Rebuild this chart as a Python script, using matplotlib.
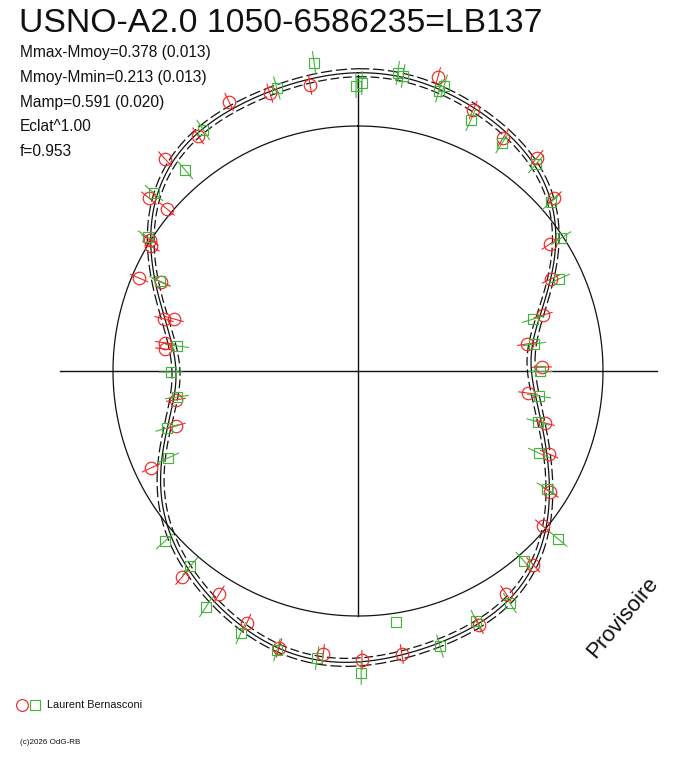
import numpy as np
import matplotlib
matplotlib.use('Agg')
import matplotlib.pyplot as plt
from matplotlib.collections import LineCollection

plt.rcParams['font.family'] = ['Liberation Sans', 'DejaVu Sans']

# polar light curve: angle = phase (deg, clockwise from top), radius in chart units
# (reference circle = 245 units)
R_REF = 245.0

title = 'USNO-A2.0 1050-6586235=LB137'
stats = ['Mmax-Mmoy=0.378 (0.013)',
         'Mmoy-Mmin=0.213 (0.013)',
         'Mamp=0.591 (0.020)',
         'Eclat^1.00',
         'f=0.953']
observer = 'Laurent Bernasconi'
credit = '(c)2026 OdG-RB'
stamp = 'Provisoire'

# model curve
model_theta = [0, 8, 16, 23.7, 31.4, 39.9, 48.9, 55.8, 64.6, 73.5, 81, 90, 98.4,
               105.9, 113.4, 121.8, 129.7, 137.5, 146.4, 154.7, 163.3, 171.6, 180,
               188, 195.9, 203, 211, 220.9, 228.3, 236.2, 246, 253.5, 261, 270,
               277.6, 285, 294, 303, 311, 319, 327.6, 333.8, 342.5, 350.7]
model_r = [296, 298, 295.6, 286, 278.7, 275, 257, 238, 212, 190, 177.7, 173.5, 179,
           190, 206.5, 226, 244, 260, 275, 278.7, 285, 287, 291,
           291, 288.5, 283, 273, 259, 249.7, 237, 214, 200, 185, 182,
           188.7, 200, 221, 247, 267, 281, 287, 290, 293.5, 297]
model_err = 4.0

# observations, set 1 (red circles)
red_theta = [350.5, 342.4, 334.4, 325.8, 317.7, 309.6, 310.3, 302.2, 301.1, 293.0,
             294.3, 285.0, 285.8, 278.3, 276.5, 261.0, 253.2, 244.9, 220.5, 211.9,
             203.8, 195.9, 187.0, 179.2, 171.2, 154.5, 146.4, 137.9, 130.0, 122.2,
             113.5, 105.5, 97.4, 88.8, 80.9, 73.2, 64.5, 56.5, 48.6, 40.0, 31.9,
             23.8, 15.2]
red_r = [290.0, 291.6, 298.3, 284.3, 286.7, 271.3, 250.5, 245.8, 241.8, 237.9,
         216.2, 200.8, 191.2, 195.0, 194.2, 184.3, 190.0, 228.6, 271.0, 262.8,
         275.4, 288.0, 285.2, 289.0, 286.4, 281.3, 267.6, 261.3, 241.3, 227.0,
         208.3, 194.1, 171.4, 184.0, 171.1, 193.3, 213.8, 230.2, 261.4, 278.2, 274.4,
         285.2, 304.7]
red_err = 10.0

# observations, set 2 (green squares)
green_theta = [351.9, 359.6, 0.8, 344.0, 327.3, 319.3, 311.1, 302.5, 294.4, 277.9,
               269.7, 261.8, 253.4, 245.4, 228.6, 220.7, 212.8, 204.1, 196.2, 188.1,
               179.4, 163.4, 154.7, 146.8, 138.9, 130.0, 122.0, 114.4, 105.8, 97.9,
               90.0, 81.3, 73.5, 65.4, 56.8, 48.8, 40.7, 32.3, 24.2, 16.8, 16.1,
               7.6, 8.7]
green_r = [311.1, 285.0, 288.0, 294.4, 286.5, 265.2, 270.7, 249.1, 217.5, 182.7,
           187.0, 182.9, 199.3, 209.0, 257.2, 257.4, 280.7, 286.9, 290.5, 290.0,
           302.0, 287.0, 276.4, 277.4, 252.3, 261.2, 222.8, 198.7, 187.1, 182.7,
           182.0, 178.1, 182.6, 221.1, 242.7, 256.5, 273.0, 269.7, 275.3, 297.7, 291.5,
           300.7, 298.4]
green_err = 12.0
# single point without error bar
lone_theta = [171.4]
lone_r = [253.9]


def to_xy(theta_deg, r):
   t = np.radians(np.asarray(theta_deg, dtype=float))
   r = np.asarray(r, dtype=float)
   return r * np.sin(t), r * np.cos(t)

def fourier_fit(theta_deg, r, order, t_out):
   t = np.radians(np.asarray(theta_deg, dtype=float))
   def design(tt):
      cols = [np.ones_like(tt)]
      for k in range(1, order + 1):
         cols += [np.cos(k * tt), np.sin(k * tt)]
      return np.column_stack(cols)
   coef = np.linalg.lstsq(design(t), np.asarray(r, dtype=float), rcond=None)[0]
   return design(t_out) @ coef

def radial_bars(theta_deg, r, err):
   x0, y0 = to_xy(theta_deg, np.asarray(r) - err)
   x1, y1 = to_xy(theta_deg, np.asarray(r) + err)
   return [[(a, b), (c, d)] for a, b, c, d in zip(x0, y0, x1, y1)]


W, H = 688, 768
CX, CY = 358, 371   # pixel position of the pole
fig = plt.figure(figsize=(W / 100., H / 100.), dpi=100)
ax = fig.add_axes([0, 0, 1, 1])
ax.set_xlim(-CX, W - CX)
ax.set_ylim(CY - H, CY)
ax.axis('off')

ink = '#111111'
red = '#f22626'
green = '#44b23c'

# axes cross and reference circle
ax.plot([-298, 299], [0, 0], color=ink, lw=1.0)
ax.plot([0, 0], [-R_REF, 296], color=ink, lw=1.0)
tc = np.linspace(0, 2 * np.pi, 721)
ax.plot(R_REF * np.sin(tc), R_REF * np.cos(tc), color=ink, lw=0.9)

# model curve with its envelope
tm = np.linspace(0, 2 * np.pi, 1441)
rm = fourier_fit(model_theta, model_r, 8, tm)
ax.plot(rm * np.sin(tm), rm * np.cos(tm), color=ink, lw=0.9)
ax.plot((rm + model_err) * np.sin(tm), (rm + model_err) * np.cos(tm),
        color=ink, lw=0.9, dashes=(9, 3))
ax.plot((rm - model_err) * np.sin(tm), (rm - model_err) * np.cos(tm),
        color=ink, lw=0.9, dashes=(7, 3))

# observations
ax.add_collection(LineCollection(radial_bars(red_theta, red_r, red_err),
                                 colors=red, linewidths=0.8))
ax.add_collection(LineCollection(radial_bars(green_theta, green_r, green_err),
                                 colors=green, linewidths=0.8))
xr, yr = to_xy(red_theta, red_r)
ax.plot(xr, yr, 'o', ms=9, mfc='none', mec=red, mew=0.85)
xg, yg = to_xy(green_theta, green_r)
ax.plot(xg, yg, 's', ms=7.5, mfc='none', mec=green, mew=0.85)
xl, yl = to_xy(lone_theta, lone_r)
ax.plot(xl, yl, 's', ms=7.5, mfc='none', mec=green, mew=0.85)

# texts (pixel positions converted to axes data units)
def px(x, y):
   return x - CX, CY - y

ax.text(*px(19, 24), title, fontsize=24.3, color=ink, va='center', ha='left')
for i, s in enumerate(stats):
   ax.text(*px(20, 53 + 24.6 * i), s, fontsize=11.2, color=ink, va='center', ha='left')

ax.text(*px(623, 618), stamp, fontsize=16, color=ink, rotation=50,
        va='center', ha='center')

ax.plot(*px(22, 705), 'o', ms=8.5, mfc='none', mec=red, mew=0.85)
ax.plot(*px(35, 705), 's', ms=6.5, mfc='none', mec=green, mew=0.85)
ax.text(*px(47, 705), observer, fontsize=7.8, color=ink, va='center', ha='left')
ax.text(*px(20, 742), credit, fontsize=5.8, color=ink, va='center', ha='left')

fig.savefig('out.png', dpi=100)
plt.close(fig)
